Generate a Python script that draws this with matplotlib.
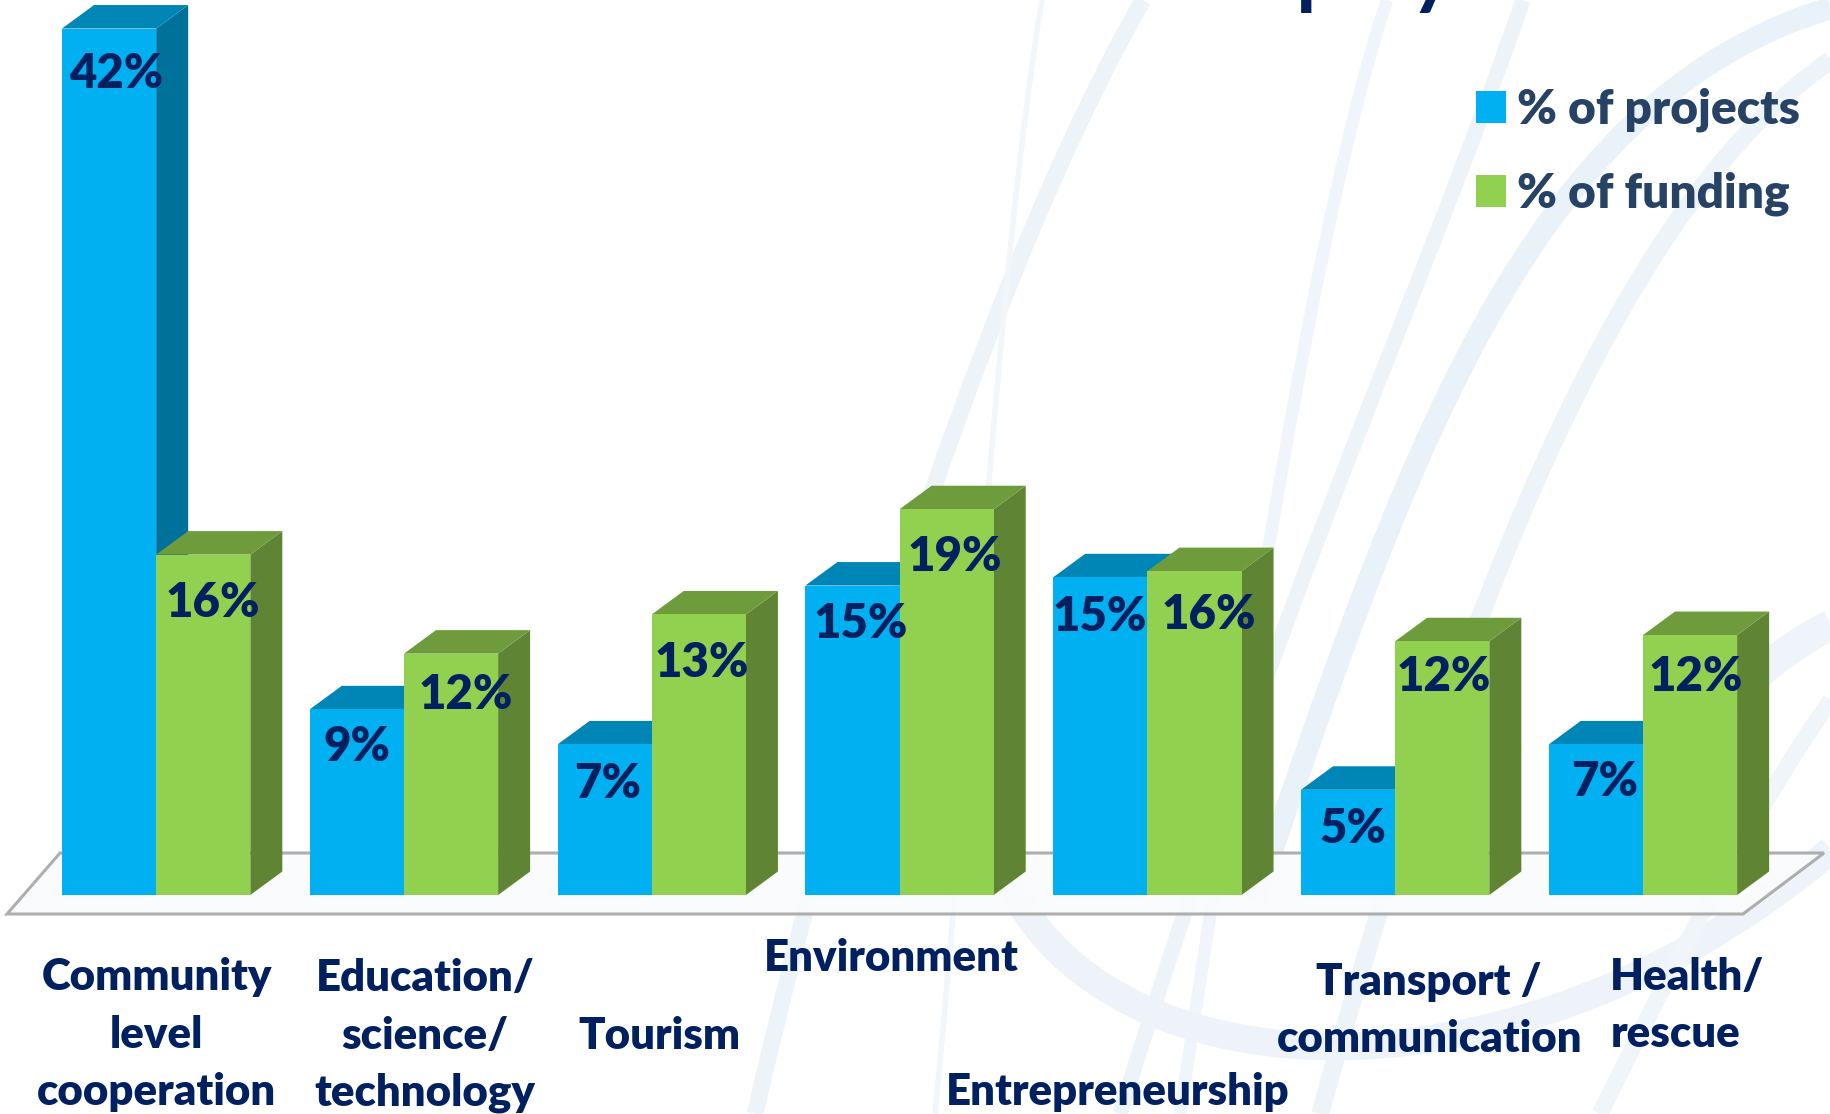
import matplotlib
matplotlib.use("Agg")
import matplotlib.pyplot as plt
from matplotlib.patches import Patch, PathPatch, Polygon
from matplotlib.path import Path

# Values
categories = [
    "Community\nlevel\ncooperation",
    "Education/\nscience/\ntechnology",
    "Tourism",
    "Environment",
    "Entrepreneurship",
    "Transport /\ncommunication",
    "Health/\nrescue",
]
projects_height = [42, 9, 7.3, 15, 15.4, 5.1, 7.3]
funding_height = [16.5, 11.7, 13.6, 18.7, 15.7, 12.3, 12.6]
projects_labels = ["42%", "9%", "7%", "15%", "15%", "5%", "7%"]
funding_labels = ["16%", "12%", "13%", "19%", "16%", "12%", "12%"]
series_names = ["% of projects", "% of funding"]

# Where the labels sit, in reference pixels of the shrunk picture
projects_label_pos = [(100, 63), (306, 640), (520, 671), (737, 534), (942, 528), (1159, 710), (1374, 670)]
funding_label_pos = [(182, 516), (399, 595), (601, 568), (818, 477), (1035, 527), (1236, 580), (1452, 580)]
category_pos = [(134, 886), (364, 887), (565, 887), (763, 820), (957, 935), (1224, 865), (1379, 861)]

W, H = 1831, 1114
S = 1831 / 1568
FONT = "Lato"
NAVY = "#002060"

fig = plt.figure(figsize=(W / 100, H / 100), dpi=100, facecolor="white")

# pixel axes for background and texts
bg = fig.add_axes([0, 0, 1, 1])
bg.set_xlim(0, W)
bg.set_ylim(H, 0)
bg.axis("off")

swooshes = [
    ([(755, 1114), (850, 700), (1000, 250), (1143, 0)], 12, "#edf4f9"),
    ([(935, 1114), (975, 700), (1000, 250), (1042, 0)], 4, "#f1f6fa"),
    ([(1180, 1114), (1250, 650), (1316, 214), (1387, 0)], 9, "#eff5fa"),
    ([(1120, 1114), (1292, 560), (1420, 300), (1523, 0)], 11, "#edf4f9"),
    ([(1255, 900), (1400, 480), (1520, 100), (1831, 8)], 16, "#e9f2f8"),
    ([(1320, 1114), (1480, 540), (1640, 190), (1831, 60)], 13, "#edf4f9"),
    ([(1000, 860), (1080, 1090), (1500, 1130), (1831, 850)], 20, "#edf3f8"),
    ([(1600, 1114), (1680, 950), (1760, 800), (1831, 700)], 12, "#f0f5fa"),
    ([(1650, 790), (1720, 700), (1780, 650), (1831, 625)], 22, "#eef4f9"),
]
codes = [Path.MOVETO, Path.CURVE4, Path.CURVE4, Path.CURVE4]
for pts, lw, col in swooshes:
    bg.add_patch(PathPatch(Path(pts, codes), fc="none", ec=col, lw=lw, capstyle="butt"))

# floor of the 3d chart
floor = [(7, 914), (1743, 914), (1824, 853), (60, 853)]
bg.add_patch(Polygon(floor, closed=True, fc="#fafbfd", ec="#a6a6a6", lw=2.2, alpha=0.9))

# bars, in data units; the axes cover the whole figure
ax = fig.add_axes([0, 0, 1, 1])
ax.patch.set_alpha(0)
ax.axis("off")
group_px = 247.8
unit_px = 20.63
ax.set_xlim(-62 / group_px, (W - 62) / group_px)
ax.set_ylim(-(H - 895) / unit_px, 895 / unit_px)

bar_w = 0.38
dx = 32 / group_px
dy = 23.5 / unit_px


def draw_bar(x, h, front, top, side):
    ax.add_patch(Polygon([(x + bar_w, 0), (x + bar_w + dx, dy), (x + bar_w + dx, h + dy), (x + bar_w, h)],
                         closed=True, fc=side, ec="none", zorder=3))
    ax.add_patch(Polygon([(x, h), (x + dx, h + dy), (x + bar_w + dx, h + dy), (x + bar_w, h)],
                         closed=True, fc=top, ec="none", zorder=3))
    ax.bar(x, h, width=bar_w, align="edge", color=front, zorder=3)


for i in range(len(categories)):
    draw_bar(i, projects_height[i], "#00B0F0", "#0086B6", "#00719B")
    draw_bar(i + bar_w, funding_height[i], "#92D050", "#6E9C3C", "#5F8433")

# texts on top of everything
tx = fig.add_axes([0, 0, 1, 1])
tx.patch.set_alpha(0)
tx.set_xlim(0, W)
tx.set_ylim(H, 0)
tx.axis("off")

for labels, positions in [(projects_labels, projects_label_pos), (funding_labels, funding_label_pos)]:
    for lab, (px, py) in zip(labels, positions):
        tx.text(px * S, py * S, lab, color=NAVY, fontsize=34, fontweight="heavy", family=FONT,
                ha="center", va="center")

for i, (name, (px, py)) in enumerate(zip(categories, category_pos)):
    is_left = name.startswith("Health")
    tx.text(px * S, py * S, name, color=NAVY, fontsize=31.5, fontweight="heavy", family=FONT,
            ha="left" if is_left else "center", va="center", linespacing=1.52,
            multialignment="left" if is_left else "center")

# tails of the cut off title
tx.text(1320, -1, "p", color=NAVY, fontsize=60, fontweight="bold", family=FONT, ha="center", va="baseline")
tx.text(1432, -1, "y", color=NAVY, fontsize=60, fontweight="bold", family=FONT, ha="center", va="baseline")

handles = [Patch(fc="#00B0F0", ec="none"), Patch(fc="#92D050", ec="none")]
tx.legend(handles, series_names, loc="upper left", bbox_to_anchor=(1476 / W, 1 - 88 / H), frameon=False,
          prop={"family": FONT, "weight": "heavy", "size": 34.5}, labelcolor="#264264",
          handlelength=0.63, handleheight=0.63, handletextpad=0.22, labelspacing=0.82,
          borderpad=0, borderaxespad=0)

fig.savefig("out.png", dpi=100)
